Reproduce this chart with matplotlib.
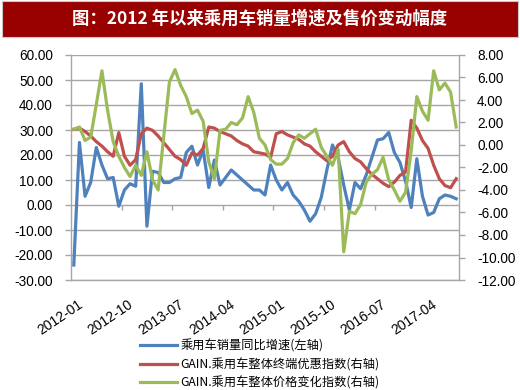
import matplotlib
matplotlib.use("Agg")
import matplotlib.pyplot as plt
from matplotlib.patches import Rectangle
import matplotlib.transforms as mtransforms

plt.rcParams['font.family'] = ['Liberation Sans', 'Noto Sans CJK SC', 'DejaVu Sans']

title = "图：2012 年以来乘用车销量增速及售价变动幅度"
series_names = ["乘用车销量同比增速(左轴)",
                "GAIN.乘用车整体终端优惠指数(右轴)",
                "GAIN.乘用车整体价格变化指数(右轴)"]
tick_labels = ["2012-01", "2012-10", "2013-07", "2014-04",
               "2015-01", "2015-10", "2016-07", "2017-04"]
label_step = 9

sales_growth = [-24, 25, 3.5, 9, 23, 16, 10.5, 11, -0.5, 6,
                8.5, 7.5, 48.5, -8.5, 13.5, 13, 9, 9, 10.5, 11,
                21, 23.5, 16, 22, 7, 18, 8, 11, 14, 12,
                10, 8, 6, 6, 4, 16, 10, 6, 9, 4,
                1.5, -2, -6.5, -3.5, 3, 14, 24, 19, 8, -2,
                9, 6.5, 12, 19, 26, 26.5, 29, 21, 17, 9.5,
                -1, 18.5, 3.5, -4, -3, 2.5, 4, 3.5, 2.5]

discount_index = [1.4, 1.5, 1.2, 0.8, 0.3, -0.1, -0.6, -1.0, 1.1, -1.0,
                  -1.8, -1.3, 1.0, 1.5, 1.3, 0.8, 0.2, -0.4, -1.0, -1.3,
                  -1.8, -0.7, -0.9, -0.3, 1.6, 1.5, 1.2, 1.0, 0.8, 0.4,
                  0.1, -0.1, -0.6, -0.7, -0.8, -1.1, 1.0, 1.2, 0.9, 0.7,
                  0.5, 0.1, -0.1, -0.6, -1.0, -1.4, -1.0, 0.0, 0.3, -0.6,
                  -1.2, -1.5, -2.1, -2.6, -3.0, -3.4, -3.7, -3.3, -2.7, -2.4,
                  2.2, 1.5, 0.4, -0.3, -1.8, -3.0, -3.6, -3.8, -3.0]

price_index = [1.4, 1.6, 0.4, 0.7, 3.6, 6.6, 3.1, 0.3, -1.0, -2.0,
               -2.8, -1.8, -2.7, -0.6, -3.1, -4.0, 0.8, 5.6, 6.7, 5.3,
               4.3, 2.8, 3.1, 2.1, -1.5, -3.0, 1.3, 1.4, 2.0, 1.8,
               2.4, 4.3, 2.9, 0.6, 0.0, -1.3, -1.7, -1.7, -1.2, 0.2,
               0.9, 0.6, 1.0, 1.4, -0.2, -1.0, -1.8, -0.4, -9.5, -5.9,
               -6.1, -5.3, -3.3, -2.6, -2.2, -1.1, -3.1, -4.0, -5.0, -4.2,
               -0.5, 4.3, 3.0, 2.2, 6.6, 4.9, 5.5, 4.7, 1.6]

colors = ['#4F81BD', '#C0504D', '#9BBB59']
grid_color = '#A6A6A6'

fig = plt.figure(figsize=(5.2, 3.9), dpi=100)
fig.patch.set_facecolor('white')

# title bar
fig.patches.append(Rectangle((2/520, 1 - 37/390), 516/520, 36/390,
                             transform=fig.transFigure, facecolor='#990000',
                             edgecolor='#C8C8C8', linewidth=0.8, zorder=0))
fig.text(0.5, 1 - 19/390, title, color='white', fontsize=12.5, fontweight='bold',
         ha='center', va='center', family=['Noto Sans CJK SC', 'DejaVu Sans'])

ax = fig.add_axes([71/520, 1 - 280/390, 388/520, 225/390])
ax2 = ax.twinx()

n = len(sales_growth)
x = list(range(n))

ax.set_ylim(-30, 60)
ax.set_yticks(range(-30, 61, 10))
ax.set_yticklabels([f"{v:.2f}" for v in range(-30, 61, 10)])
ax2.set_ylim(-12, 8)
ax2.set_yticks(range(-12, 9, 2))
ax2.set_yticklabels([f"{v:.2f}" for v in range(-12, 9, 2)])
ax.set_xlim(-0.5, n - 0.5)

ax.grid(axis='y', color=grid_color, linewidth=1.0)
ax.set_axisbelow(True)

h1, = ax.plot(x, sales_growth, color=colors[0], linewidth=2.3, zorder=3,
              solid_joinstyle='round')
h2, = ax2.plot(x, discount_index, color=colors[1], linewidth=2.3, zorder=3,
               solid_joinstyle='round')
h3, = ax2.plot(x, price_index, color=colors[2], linewidth=2.3, zorder=3,
               solid_joinstyle='round')
ax.set_zorder(0)
ax2.set_zorder(1)
ax2.patch.set_visible(False)

for a in (ax, ax2):
    a.spines['top'].set_visible(False)
    for s in ('left', 'right', 'bottom'):
        a.spines[s].set_color(grid_color)
        a.spines[s].set_linewidth(1.0)
ax.spines['right'].set_visible(False)
ax2.spines['left'].set_visible(False)
ax2.spines['bottom'].set_visible(False)

ax.tick_params(axis='y', length=4, width=1, color=grid_color, pad=9,
               labelsize=9.8, labelcolor='#000000')
ax2.tick_params(axis='y', length=4, width=1, color=grid_color, pad=9,
                labelsize=9.8, labelcolor='#000000')

# x axis: labels at the bottom, tick marks on the zero line
ax.set_xticks([])
boundaries = [k - 0.5 for k in range(label_step, n, label_step)]
ax.vlines(boundaries, -2, 0, color=grid_color, linewidth=1.0, zorder=2)
trans = mtransforms.blended_transform_factory(ax.transData, ax.transAxes)
for k, lab in enumerate(tick_labels):
    ax.text(k * label_step + 0.6, -0.075, lab, transform=trans, rotation=34,
            rotation_mode='anchor', ha='right', va='top', fontsize=10)

fig.legend([h1, h2, h3], series_names, loc='upper center',
           bbox_to_anchor=(0.5, 1 - 331/390), bbox_transform=fig.transFigure,
           frameon=False, ncol=1, handlelength=3.0, handletextpad=0.3,
           labelspacing=0.42, borderpad=0.2,
           prop={'family': ['Noto Sans CJK SC', 'DejaVu Sans'], 'size': 8.8})

fig.savefig('out.png', dpi=100, facecolor='white')
